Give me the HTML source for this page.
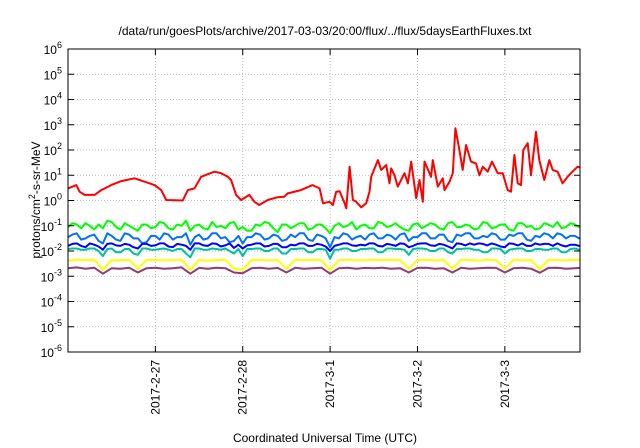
<!DOCTYPE html>
<html><head><meta charset="utf-8"><style>
body{margin:0;background:#fff;}
svg{display:block;font-family:"Liberation Sans",sans-serif;}
</style></head><body>
<svg id="chart" width="640" height="448" viewBox="0 0 640 448" xmlns="http://www.w3.org/2000/svg">
<rect width="640" height="448" fill="#fff"/>
<text x="325" y="35" font-size="12" text-anchor="middle" fill="#000">/data/run/goesPlots/archive/2017-03-03/20:00/flux/../flux/5daysEarthFluxes.txt</text>
<text transform="translate(40,200) rotate(-90)" font-size="12" text-anchor="middle">protons/cm<tspan dy="-5" font-size="9">2</tspan><tspan dy="5">-s-sr-MeV</tspan></text>
<text x="325" y="442" font-size="12" text-anchor="middle">Coordinated Universal Time (UTC)</text>
<defs><clipPath id="pc"><rect x="68" y="49" width="512" height="303"/></clipPath></defs>
<g id="grid"></g>
<g id="series" clip-path="url(#pc)"></g>
<rect x="68" y="49" width="512" height="303" fill="none" stroke="#000" stroke-width="1"/>
<g id="axes"></g>
</svg>
<script>
const yTickExps=[-6,-5,-4,-3,-2,-1,0,1,2,3,4,5,6];
const xTickDays=[1,2,3,4,5];
const xTickLabels=["2017-2-27","2017-2-28","2017-3-1","2017-3-2","2017-3-3"];
const redTimes=[0,.095,.133,.19,.305,.381,.495,.61,.762,.914,.99,1.067,1.124,1.314,1.371,1.448,1.524,1.6,1.676,1.752,1.829,1.867,1.924,1.981,2.076,2.133,2.19,2.286,2.4,2.476,2.514,2.667,2.8,2.88,2.918,2.994,3.032,3.07,3.109,3.166,3.185,3.223,3.261,3.299,3.356,3.413,3.451,3.47,3.547,3.585,3.642,3.68,3.699,3.737,3.775,3.851,3.89,3.928,3.985,4.023,4.061,4.08,4.156,4.175,4.232,4.29,4.309,4.366,4.404,4.434,4.48,4.518,4.556,4.613,4.67,4.709,4.747,4.804,4.853,4.918,4.975,5.032,5.07,5.109,5.147,5.185,5.211,5.261,5.299,5.356,5.394,5.451,5.509,5.547,5.604,5.661,5.718,5.756,5.832,5.87];
const redLog=[.48,.61,.35,.22,.22,.41,.61,.77,.88,.70,.61,.41,.02,0,.41,.48,.94,1.04,1.14,1.08,.94,.81,.22,.02,.22,-.05,-.18,.02,.13,.15,.28,.41,.61,.48,-.11,-.05,-.18,.35,.37,-.11,-.31,1.34,.02,-.05,-.27,-.11,.35,.94,1.6,1.21,1.4,.68,1.27,1.0,.55,1.08,.68,1.54,.09,.81,-.05,1.54,.94,1.6,.55,.88,.41,.74,1.08,2.86,2.0,1.21,2.2,1.54,1.47,1.0,1.34,1.14,1.54,1.08,1.08,.41,.35,1.8,.68,.61,2.0,2.27,1.0,2.72,1.6,.81,1.6,1.21,1.14,.68,.94,1.08,1.34,1.3];
const greenLog=[-1.05,-0.9,-0.95,-1.1,-0.9,-1.0,-1.15,-0.95,-1.1,-0.8,-0.85,-1.05,-1.15,-0.9,-1.0,-1.1,-1.2,-0.95,-0.95,-1.1,
-1.05,-0.85,-0.9,-1.1,-1.15,-0.95,-1.0,-0.8,-1.2,-1.0,-0.95,-1.1,-1.15,-0.85,-1.05,-1.0,-1.1,-0.9,-0.85,-1.15,
-1.05,-1.2,-1.2,-0.95,-1.0,-0.85,-0.9,-1.1,-1.25,-0.95,-0.95,-1.1,-1.0,-0.9,-0.9,-1.15,-1.1,-0.95,-0.95,-1.1,
-1.3,-1.0,-0.9,-1.05,-1.0,-0.85,-1.15,-1.0,-0.95,-1.1,-1.1,-0.85,-0.9,-1.05,-1.0,-0.9,-1.05,-1.15,-1.2,-0.95,
-0.9,-1.1,-1.0,-0.9,-0.95,-1.1,-1.15,-0.9,-0.85,-1.05,-1.05,-0.95,-1.0,-1.15,-1.1,-0.85,-0.9,-1.1,-1.05,-0.95,
-0.95,-1.15,-1.2,-0.9,-0.9,-1.05,-1.0,-1.15,-1.1,-0.9,-0.95,-1.05,-0.85,-1.1,-1.05,-0.9,-0.95,-1.05,-0.9,-1.0];
const lblueLog=[-1.45,-1.35,-1.3,-1.55,-1.5,-1.4,-1.35,-1.6,-1.7,-1.3,-1.4,-1.55,-1.6,-1.3,-1.35,-1.5,-1.5,-1.7,-1.65,-1.4,
-1.4,-1.55,-1.3,-1.35,-1.55,-1.45,-1.45,-1.3,-1.75,-1.45,-1.35,-1.55,-1.5,-1.3,-1.3,-1.5,-1.45,-1.65,-1.6,-1.4,
-1.7,-1.45,-1.45,-1.3,-1.35,-1.55,-1.5,-1.35,-1.4,-1.6,-1.55,-1.35,-1.45,-1.3,-1.3,-1.55,-1.6,-1.35,-1.4,-1.5,
-1.85,-1.45,-1.5,-1.3,-1.35,-1.55,-1.45,-1.4,-1.55,-1.35,-1.3,-1.5,-1.5,-1.35,-1.4,-1.55,-1.35,-1.3,-1.6,-1.45,
-1.45,-1.3,-1.3,-1.5,-1.5,-1.35,-1.35,-1.6,-1.65,-1.35,-1.4,-1.3,-1.3,-1.5,-1.5,-1.4,-1.45,-1.3,-1.35,-1.55,
-1.55,-1.35,-1.4,-1.3,-1.3,-1.55,-1.6,-1.4,-1.45,-1.3,-1.35,-1.5,-1.3,-1.35,-1.5,-1.4,-1.4,-1.5,-1.45,-1.35];
const blueLog=[-1.8,-1.72,-1.7,-1.8,-1.85,-1.7,-1.75,-1.82,-1.95,-1.72,-1.7,-1.78,-1.8,-1.72,-1.75,-1.85,-1.9,-1.72,-1.72,-1.8,
-1.78,-1.7,-1.7,-1.82,-1.85,-1.72,-1.75,-1.8,-1.95,-1.7,-1.7,-1.78,-1.8,-1.7,-1.72,-1.82,-1.78,-1.7,-1.88,-1.75,
-1.9,-1.78,-1.75,-1.7,-1.7,-1.82,-1.8,-1.72,-1.72,-1.85,-1.85,-1.75,-1.78,-1.7,-1.7,-1.8,-1.8,-1.72,-1.75,-1.82,
-2.0,-1.8,-1.75,-1.7,-1.7,-1.78,-1.8,-1.75,-1.78,-1.7,-1.7,-1.8,-1.82,-1.72,-1.75,-1.8,-1.7,-1.72,-1.85,-1.8,
-1.72,-1.7,-1.7,-1.78,-1.8,-1.72,-1.75,-1.82,-1.9,-1.7,-1.72,-1.78,-1.7,-1.75,-1.7,-1.72,-1.78,-1.7,-1.75,-1.82,
-1.85,-1.7,-1.72,-1.78,-1.7,-1.8,-1.8,-1.7,-1.75,-1.72,-1.72,-1.8,-1.7,-1.78,-1.82,-1.75,-1.75,-1.8,-1.78,-1.75];
const tealLog=[-1.92,-1.9,-1.9,-1.95,-1.95,-1.9,-1.9,-2.0,-2.2,-1.92,-1.9,-2.05,-2.05,-1.92,-1.92,-2.1,-2.15,-1.9,-1.9,-1.95,
-1.95,-1.92,-1.9,-1.95,-2.0,-1.92,-1.92,-2.1,-2.25,-1.9,-1.9,-1.95,-1.95,-1.9,-1.92,-1.95,-1.9,-2.0,-2.1,-1.92,
-2.2,-1.92,-1.92,-1.9,-1.9,-2.0,-2.0,-1.9,-1.9,-2.1,-2.1,-1.92,-1.92,-1.9,-1.9,-2.05,-2.05,-1.92,-1.92,-1.95,
-2.3,-1.95,-1.95,-1.9,-1.9,-2.0,-2.0,-1.92,-1.92,-1.9,-1.9,-2.05,-2.05,-1.9,-1.9,-1.92,-1.92,-1.95,-2.15,-1.92,
-1.9,-1.9,-1.92,-2.0,-2.0,-1.9,-1.9,-2.05,-2.1,-1.92,-1.92,-1.9,-1.9,-1.95,-1.95,-2.05,-2.05,-1.9,-1.9,-1.92,
-2.1,-1.95,-1.92,-1.9,-1.9,-2.0,-2.0,-1.92,-1.92,-1.95,-1.95,-1.9,-1.9,-2.05,-2.05,-1.92,-1.9,-1.95,-1.92,-1.9];
const yellowLog=[-2.38,-2.35,-2.36,-2.35,-2.75,-2.36,-2.37,-2.35,-2.7,-2.36,
-2.35,-2.37,-2.36,-2.35,-2.75,-2.35,-2.38,-2.36,-2.35,-2.7,
-2.75,-2.36,-2.35,-2.37,-2.36,-2.7,-2.35,-2.36,-2.35,-2.37,
-2.75,-2.36,-2.35,-2.37,-2.36,-2.35,-2.36,-2.35,-2.37,-2.7,
-2.36,-2.35,-2.37,-2.36,-2.7,-2.35,-2.36,-2.38,-2.35,-2.36,
-2.7,-2.35,-2.37,-2.36,-2.72,-2.35,-2.36,-2.37,-2.35,-2.36];
const purpleLog=[-2.68,-2.65,-2.7,-2.66,-2.9,-2.68,-2.7,-2.66,-2.85,-2.68,
-2.66,-2.7,-2.68,-2.65,-2.9,-2.67,-2.7,-2.66,-2.68,-2.85,
-2.88,-2.68,-2.66,-2.7,-2.67,-2.85,-2.66,-2.7,-2.68,-2.66,
-2.9,-2.68,-2.66,-2.7,-2.67,-2.68,-2.66,-2.7,-2.68,-2.85,
-2.67,-2.66,-2.7,-2.68,-2.85,-2.66,-2.7,-2.68,-2.66,-2.67,
-2.85,-2.68,-2.66,-2.7,-2.86,-2.67,-2.66,-2.7,-2.68,-2.66];
const NS="http://www.w3.org/2000/svg";
const X0=68,X1=580,Y0=352,Y1=49,DMAX=5.86;
function xs(d){return X0+d/DMAX*(X1-X0);}
function ys(l){return Y0-(l+6)/12*(Y0-Y1);}
const grid=document.getElementById('grid'),axes=document.getElementById('axes'),ser=document.getElementById('series');
function mk(tag,attrs,parent){const e=document.createElementNS(NS,tag);for(const k in attrs)e.setAttribute(k,attrs[k]);parent.appendChild(e);return e;}
yTickExps.forEach(ex=>{
  const y=ys(ex);
  if(ex>-6&&ex<6){const g=mk('line',{x1:X0,x2:X1,y1:y,y2:y,stroke:'#aaa','stroke-width':0.8,'stroke-dasharray':'1,2'},grid);
  
  }
  const t1=mk('line',{x1:X0,x2:X0+6,y1:y,y2:y,stroke:'#000'},axes);
  
  
  const t2=mk('line',{x1:X1-6,x2:X1,y1:y,y2:y,stroke:'#000'},axes);
  
  
  const tx=mk('text',{x:62,y:y+5,'font-size':12,'text-anchor':'end'},axes);
  
  
  tx.innerHTML='10<tspan dy="-6" font-size="9">'+ex+'</tspan>';
});
xTickDays.forEach((d,i)=>{
  const x=xs(d);
  const g=mk('line',{x1:x,x2:x,y1:Y1,y2:Y0,stroke:'#aaa','stroke-width':0.8,'stroke-dasharray':'1,2'},grid);
  
  
  const t1=mk('line',{x1:x,x2:x,y1:Y0-6,y2:Y0,stroke:'#000'},axes);
  
  
  const t2=mk('line',{x1:x,x2:x,y1:Y1,y2:Y1+6,stroke:'#000'},axes);
  
  
  const tx=mk('text',{transform:'translate('+(x+4)+','+(Y0+8)+') rotate(-90)','font-size':12,'text-anchor':'end'},axes);
  
  
  tx.textContent=xTickLabels[i];
});
function line(times,vals,color,name){
  const pts=vals.map((v,i)=>xs(times[i]).toFixed(1)+','+ys(v).toFixed(1)).join(' ');
  const p=mk('polyline',{points:pts,fill:'none',stroke:color,'stroke-width':2,'stroke-linejoin':'round'},ser);
  
  
}
const coarseTimes=yellowLog.map((_,i)=>i*0.1);
const fineTimes=greenLog.map((_,i)=>i*0.05);
line(coarseTimes,purpleLog,'#943a73','series-purple');
line(coarseTimes,yellowLog,'#ffff00','series-yellow');
line(fineTimes,tealLog,'#00c0a0','series-teal');
line(fineTimes,greenLog,'#00ff00','series-green');
line(fineTimes,lblueLog,'#0070ff','series-light-blue');
line(fineTimes,blueLog,'#0000ff','series-blue');
line(redTimes,redLog,'#ff0000','series-red');
</script>
</body></html>
